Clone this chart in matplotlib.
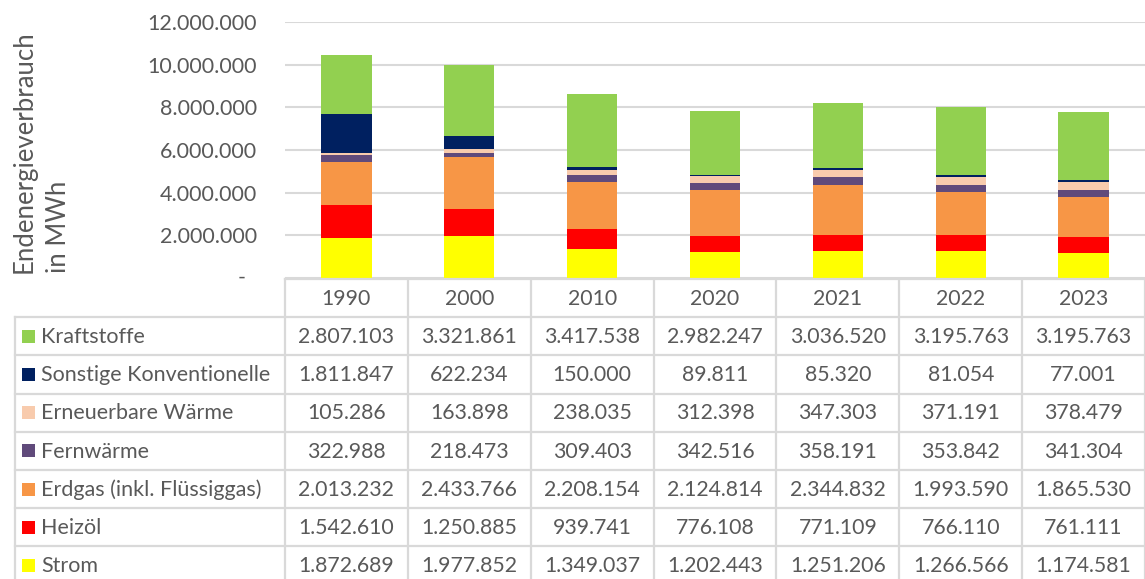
import numpy as np
import matplotlib.pyplot as plt
from matplotlib.ticker import FuncFormatter
from matplotlib.patches import Rectangle

plt.rcParams['font.family'] = ['Lato', 'DejaVu Sans']

years = ['1990', '2000', '2010', '2020', '2021', '2022', '2023']

# top to bottom as in the table
series = ['Kraftstoffe', 'Sonstige Konventionelle', 'Erneuerbare Wärme',
          'Fernwärme', 'Erdgas (inkl. Flüssiggas)', 'Heizöl', 'Strom']
kraftstoffe = [2807103, 3321861, 3417538, 2982247, 3036520, 3195763, 3195763]
sonstige = [1811847, 622234, 150000, 89811, 85320, 81054, 77001]
erneuerbare = [105286, 163898, 238035, 312398, 347303, 371191, 378479]
fernwaerme = [322988, 218473, 309403, 342516, 358191, 353842, 341304]
erdgas = [2013232, 2433766, 2208154, 2124814, 2344832, 1993590, 1865530]
heizoel = [1542610, 1250885, 939741, 776108, 771109, 766110, 761111]
strom = [1872689, 1977852, 1349037, 1202443, 1251206, 1266566, 1174581]
values = [kraftstoffe, sonstige, erneuerbare, fernwaerme, erdgas, heizoel, strom]
colors = ['#92D050', '#002060', '#F8CBAD', '#604A7B', '#F79646', '#FF0000', '#FFFF00']

txt = '#595959'
grid = '#d9d9d9'
W, H = 1145, 579


def de(v):
    return f'{v:,.0f}'.replace(',', '.')


fig = plt.figure(figsize=(W / 100, H / 100), dpi=100)

# chart area
ax = fig.add_axes([285 / W, 1 - 278 / H, 860 / W, 256 / H])
x = np.arange(len(years)) + 0.5
bottom = np.zeros(len(years))
for name, vals, c in zip(series[::-1], values[::-1], colors[::-1]):
    ax.bar(x, vals, 0.41, bottom=bottom, color=c, label=name)
    bottom += np.array(vals)
ax.set_xlim(0, len(years))
ax.set_ylim(0, 12000000)
ax.set_yticks(np.arange(0, 12000001, 2000000))
ax.yaxis.set_major_formatter(FuncFormatter(lambda v, p: '' if v == 0 else de(v)))
ax.tick_params(axis='y', length=0, labelsize=15.5, labelcolor=txt, pad=20)
# Excel accounting format: zero shown as an indented dash
ax.annotate('-', xy=(0, 0), xycoords=('axes fraction', 'data'),
            xytext=(-31, 0), textcoords='offset points',
            ha='center', va='center', fontsize=15.5, color=txt)
ax.set_xticks([])
ax.grid(axis='y', color=grid, lw=1.5)
ax.set_axisbelow(True)
for s in ax.spines.values():
    s.set_visible(False)
fig.text(12 / W, 1 - 152 / H, 'Endenergieverbrauch\nin MWh', rotation=90,
         ha='left', va='center', fontsize=18.5, color=txt, linespacing=1.45)

# data table below the chart
row_h = 38.2
colw = 860 / len(years)
left = -(285 - 15) / colw
tb = fig.add_axes([15 / W, 0, 1130 / W, (H - 279) / H])
tb.set_xlim(left, len(years))
tb.set_ylim((H - 279) / row_h, 0)
tb.axis('off')
n = len(series)
lw = 1.6
tb.plot([0, len(years)], [0, 0], color=grid, lw=lw, clip_on=False)
for r in range(1, n + 1):
    tb.plot([left, len(years)], [r, r], color=grid, lw=lw, clip_on=False)
tb.plot([left, left], [1, n + 1], color=grid, lw=lw, clip_on=False)
for cidx in range(len(years) + 1):
    tb.plot([cidx, cidx], [0, n + 1], color=grid, lw=lw, clip_on=False)
for j, yr in enumerate(years):
    tb.text(j + 0.5, 0.52, yr, ha='center', va='center', fontsize=15.3, color=txt)
for i, (name, vals, c) in enumerate(zip(series, values, colors)):
    yc = i + 1.5
    tb.add_patch(Rectangle((left + 7 / colw, yc - 0.17), 13 / colw, 0.34,
                           color=c, lw=0))
    tb.text(left + 26 / colw, yc + 0.02, name, ha='left', va='center',
            fontsize=15.5, color=txt)
    for j, v in enumerate(vals):
        tb.text(j + 0.5, yc + 0.02, de(v), ha='center', va='center',
                fontsize=15.3, color=txt)

fig.savefig('out.png', dpi=100)
